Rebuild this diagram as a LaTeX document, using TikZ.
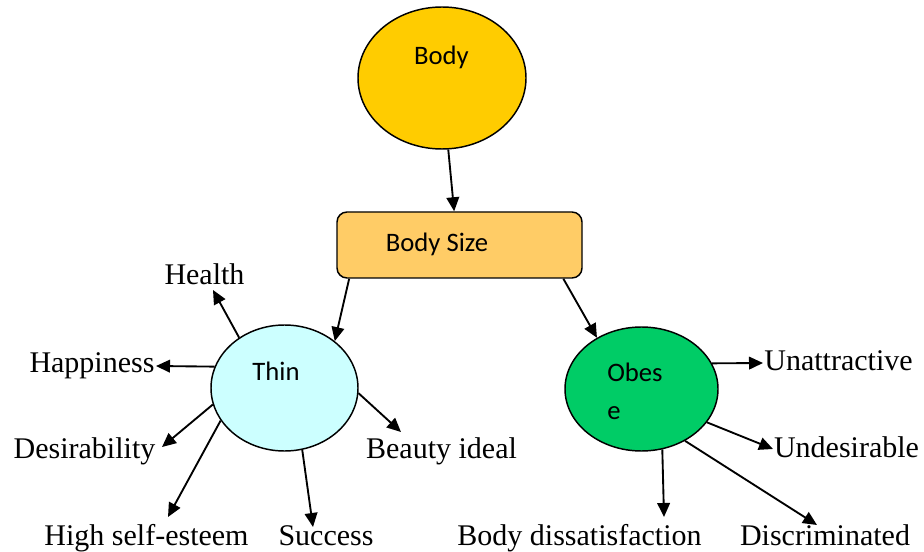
\documentclass[tikz,border=0pt]{standalone}
\usepackage{fontspec}
\setmainfont{Liberation Serif}
\newfontfamily\calibri{Carlito}
\usetikzlibrary{shapes.geometric,arrows.meta}
\definecolor{bodyc}{HTML}{FFCC00}
\definecolor{sizec}{HTML}{FFCC66}
\definecolor{thinc}{HTML}{CCFFFF}
\definecolor{obesec}{HTML}{00CC66}
\begin{document}
\begin{tikzpicture}[x=0.75pt,y=-0.75pt,
  blob/.style={ellipse,draw,line width=1.1pt,inner sep=0pt},
  tag/.style={font=\fontsize{22.5}{27}\selectfont,inner sep=0pt,anchor=base},
  intext/.style={font=\calibri\fontsize{20}{24}\selectfont,inner sep=0pt,anchor=base},
  arr/.style={-{Triangle[length=10.5pt,width=9.5pt]},line width=1.4pt}]
\useasboundingbox (0,0) rectangle (924,552);

% main shapes
\node[blob,fill=bodyc,minimum width=126pt,minimum height=106.5pt] (body) at (442,78) {};
\node[draw,line width=1.1pt,fill=sizec,rounded corners=7.5pt,minimum width=183.75pt,minimum height=49.5pt,inner sep=0pt] (size) at (459.5,245) {};
\node[blob,fill=thinc,minimum width=110.25pt,minimum height=94.5pt] (thin) at (284.5,388) {};
\node[blob,fill=obesec,minimum width=114.75pt,minimum height=93pt] (obese) at (641.5,389) {};

% texts inside the shapes
\node[intext] (bodyt) at (441.5,65) {Body};
\node[intext] (sizet) at (437,252) {Body Size};
\node[intext] (thint) at (276,380) {Thin};
\node[intext,anchor=base west] (obeset1) at (607,381) {Obes};
\node[intext,anchor=base west] (obeset2) at (607,419) {e};

% attribute labels
\node[tag] (health) at (204.5,284) {Health};
\node[tag] (happy) at (92,372) {Happiness};
\node[tag] (desir) at (84.5,458) {Desirability};
\node[tag] (esteem) at (146.5,545) {High self-esteem};
\node[tag] (success) at (326,545) {Success};
\node[tag] (beauty) at (441.5,458) {Beauty ideal};
\node[tag] (unattr) at (838.5,370) {Unattractive};
\node[tag] (undes) at (846.5,457) {Undesirable};
\node[tag] (dissat) at (579.5,545) {Body dissatisfaction};
\node[tag] (discr) at (825,545) {Discriminated};

% arrow tips next to the labels
\coordinate (healthtip) at (213,290);
\coordinate (happytip) at (156,366);
\coordinate (desirtip) at (162,447);
\coordinate (esteemtip) at (168,517);
\coordinate (successtip) at (313,527);
\coordinate (beautytip) at (401,432);
\coordinate (unattrtip) at (763,363);
\coordinate (undestip) at (773,449);
\coordinate (dissattip) at (664,517);
\coordinate (discrtip) at (817,525);

% hierarchy
\draw[arr] (body.275.6) -- (size.99.5);
\draw[arr] (size.197.8) -- (thin.43.6);
\draw[arr] (size.342.3) -- (obese.131.8);

% thin
\draw[arr] (thin.132.3) -- (healthtip);
\draw[arr] (thin.163.3) -- (happytip);
\draw[arr] (thin.193.7) -- (desirtip);
\draw[arr] (thin.207.1) -- (esteemtip);
\draw[arr] (thin.286.4) -- (successtip);
\draw[arr] (thin.356.9) -- (beautytip);

% obese
\draw[arr] (obese.20.2) -- (unattrtip);
\draw[arr] (obese.333.3) -- (undestip);
\draw[arr] (obese.289.1) -- (dissattip);
\draw[arr] (obese.310.6) -- (discrtip);
\end{tikzpicture}
\end{document}
